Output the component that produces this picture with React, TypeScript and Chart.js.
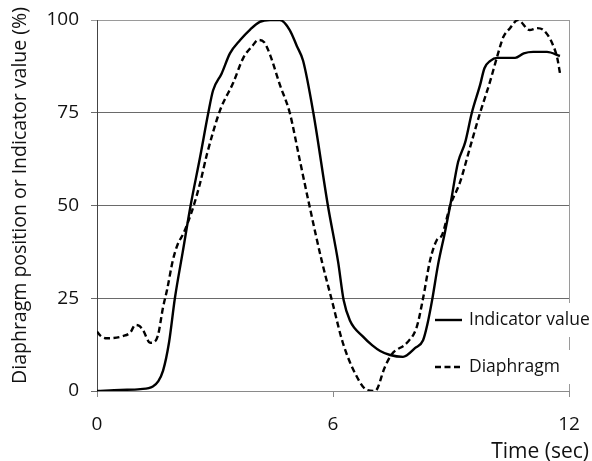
import React, { useEffect, useRef } from 'react';
import { Chart, registerables } from 'chart.js';

Chart.register(...registerables);

// ---- data ----
const indicatorTime = [0, 0.6, 1.1, 1.42, 1.55, 1.68, 1.83, 1.98, 2.18, 2.38, 2.62, 2.83, 2.95, 3.17, 3.38, 3.64, 3.9, 4.14, 4.4, 4.65, 4.9, 5.08, 5.24, 5.5, 5.87, 6.13, 6.27, 6.43, 6.77, 7.0, 7.2, 7.45, 7.78, 8.09, 8.29, 8.4, 8.52, 8.67, 8.85, 8.98, 9.18, 9.36, 9.53, 9.74, 9.85, 10.0, 10.17, 10.63, 10.85, 11.09, 11.44, 11.77];
const indicatorValue = [0, 0.3, 0.5, 1.2, 2.5, 5.5, 13, 25, 37.5, 50, 63, 75, 81, 85.6, 91, 94.6, 97.5, 99.5, 100, 100, 97.3, 93, 89, 75, 50, 34.8, 24.5, 19, 14.6, 12.3, 10.8, 9.7, 9.2, 11.6, 13.7, 18, 24.5, 34, 43, 50, 61.7, 67, 75, 82.5, 87, 89, 89.8, 89.8, 91, 91.4, 91.4, 90.3];

const diaphragmTime = [0, 0.1, 0.25, 0.66, 0.85, 0.97, 1.08, 1.17, 1.35, 1.45, 1.55, 1.68, 1.78, 1.93, 2.05, 2.2, 2.33, 2.46, 2.62, 2.8, 3.13, 3.46, 3.72, 3.95, 4.1, 4.25, 4.4, 4.65, 4.9, 5.15, 5.4, 5.72, 5.97, 6.25, 6.56, 6.86, 7.07, 7.32, 7.5, 7.88, 8.13, 8.29, 8.47, 8.64, 8.77, 8.98, 9.23, 9.48, 9.74, 9.99, 10.17, 10.33, 10.5, 10.7, 11.0, 11.19, 11.35, 11.57, 11.7, 11.77];
const diaphragmValue = [16, 14.8, 14.2, 14.8, 15.8, 17.8, 17.5, 16.4, 13, 13.2, 15, 22.6, 27.2, 35.3, 39.5, 42.5, 46, 50, 56, 64, 75.7, 83, 89.8, 93, 94.6, 94, 90.6, 82.5, 75, 62.5, 50, 34.8, 24.5, 13, 4.8, 0.3, 0, 6.5, 10, 13, 17.3, 25, 35.3, 40.7, 42, 50, 56.3, 65.5, 75, 83.3, 90, 95.4, 97.8, 100, 97.3, 97.8, 97.3, 93.8, 89.8, 85.7];

const seriesLabels = ['Indicator value', 'Diaphragm'];
const yTickValues = [0, 25, 50, 75, 100];
const xTickValues = [0, 6, 12];
const xTitle = 'Time (sec)';
const yTitle = 'Diaphragm position or Indicator value (%)';

const FONT = 'Open Sans';
const TEXT = '#111111';
const DASH = [6, 3.5];
const LINE_W = 2.4;

const toPoints = (t: number[], v: number[]) => t.map((x, i) => ({ x, y: v[i] }));

const overlayPlugin = {
  id: 'overlay',
  afterDraw(chart: any) {
    const { ctx, chartArea: ca } = chart;
    ctx.save();
    // right border of plot area
    ctx.strokeStyle = '#9a9a9a';
    ctx.lineWidth = 1;
    ctx.beginPath();
    ctx.moveTo(ca.right + 0.5, ca.top);
    ctx.lineTo(ca.right + 0.5, ca.bottom);
    ctx.stroke();

    // legend
    ctx.font = `17.5px "${FONT}"`;
    ctx.textBaseline = 'middle';
    ctx.textAlign = 'left';
    const rows = [ca.bottom - 71, ca.bottom - 24];
    seriesLabels.forEach((label, i) => {
      const cy = rows[i];
      ctx.fillStyle = '#ffffff';
      ctx.fillRect(ca.right - 103, cy - 17, 140, 34);
      ctx.strokeStyle = '#000000';
      ctx.lineWidth = LINE_W;
      ctx.setLineDash(i === 0 ? [] : DASH);
      ctx.beginPath();
      ctx.moveTo(ca.right - 134, cy);
      ctx.lineTo(ca.right - 107, cy);
      ctx.stroke();
      ctx.setLineDash([]);
      ctx.fillStyle = TEXT;
      ctx.fillText(label, ca.right - 100, cy);
    });

    // x axis title
    ctx.font = `21px "${FONT}"`;
    ctx.textAlign = 'right';
    ctx.fillStyle = TEXT;
    ctx.fillText(xTitle, ca.right + 20, ca.bottom + 61);

    // y axis title
    ctx.font = `19.5px "${FONT}"`;
    ctx.textAlign = 'center';
    ctx.translate(20, (ca.top + ca.bottom) / 2 - 10);
    ctx.rotate(-Math.PI / 2);
    ctx.fillText(yTitle, 0, 0);
    ctx.restore();
  },
};

export default function App() {
  const ref = useRef<HTMLCanvasElement | null>(null);

  useEffect(() => {
    if (!ref.current) return;
    const chart = new Chart(ref.current, {
      type: 'line',
      data: {
        datasets: [
          {
            label: seriesLabels[0],
            data: toPoints(indicatorTime, indicatorValue),
            borderColor: '#000000',
            borderWidth: LINE_W,
            pointRadius: 0,
            cubicInterpolationMode: 'monotone',
            fill: false,
          },
          {
            label: seriesLabels[1],
            data: toPoints(diaphragmTime, diaphragmValue),
            borderColor: '#000000',
            borderWidth: LINE_W,
            borderDash: DASH,
            pointRadius: 0,
            cubicInterpolationMode: 'monotone',
            fill: false,
          },
        ],
      },
      options: {
        animation: false,
        responsive: false,
        events: [],
        layout: { padding: { top: 20, right: 23, left: 0, bottom: 0 } },
        plugins: {
          legend: { display: false },
          tooltip: { enabled: false },
          title: { display: false },
        },
        scales: {
          x: {
            type: 'linear',
            min: 0,
            max: 12,
            afterBuildTicks: (s: any) => {
              s.ticks = xTickValues.map((v) => ({ value: v }));
            },
            afterFit: (s: any) => {
              s.height = 70;
              s.paddingLeft = 0;
              s.paddingRight = 0;
            },
            ticks: {
              color: TEXT,
              font: { family: FONT, size: 19 },
              padding: 16,
              maxRotation: 0,
            },
            grid: {
              drawOnChartArea: false,
              drawTicks: true,
              tickLength: 6,
              color: '#8a8a8a',
            },
            border: { color: '#8a8a8a', width: 1 },
          },
          y: {
            type: 'linear',
            min: 0,
            max: 100,
            afterBuildTicks: (s: any) => {
              s.ticks = yTickValues.map((v) => ({ value: v }));
            },
            afterFit: (s: any) => {
              s.width = 97;
              s.paddingTop = 0;
              s.paddingBottom = 0;
            },
            ticks: {
              color: TEXT,
              font: { family: FONT, size: 19 },
              padding: 12,
            },
            grid: {
              color: (c: any) => (c.tick && c.tick.value === 100 ? '#9a9a9a' : '#6a6a6a'),
              lineWidth: 1,
              tickLength: 6,
            },
            border: { color: '#444444', width: 1 },
            title: { display: false },
          },
        },
      },
      plugins: [overlayPlugin],
    } as any);
    return () => chart.destroy();
  }, []);

  return (
    <div style={{ position: 'absolute', left: 0, top: 0, width: 592, height: 461, background: '#ffffff' }}>
      <canvas ref={ref} width={592} height={461} style={{ width: 592, height: 461, display: 'block' }} />
    </div>
  );
}
